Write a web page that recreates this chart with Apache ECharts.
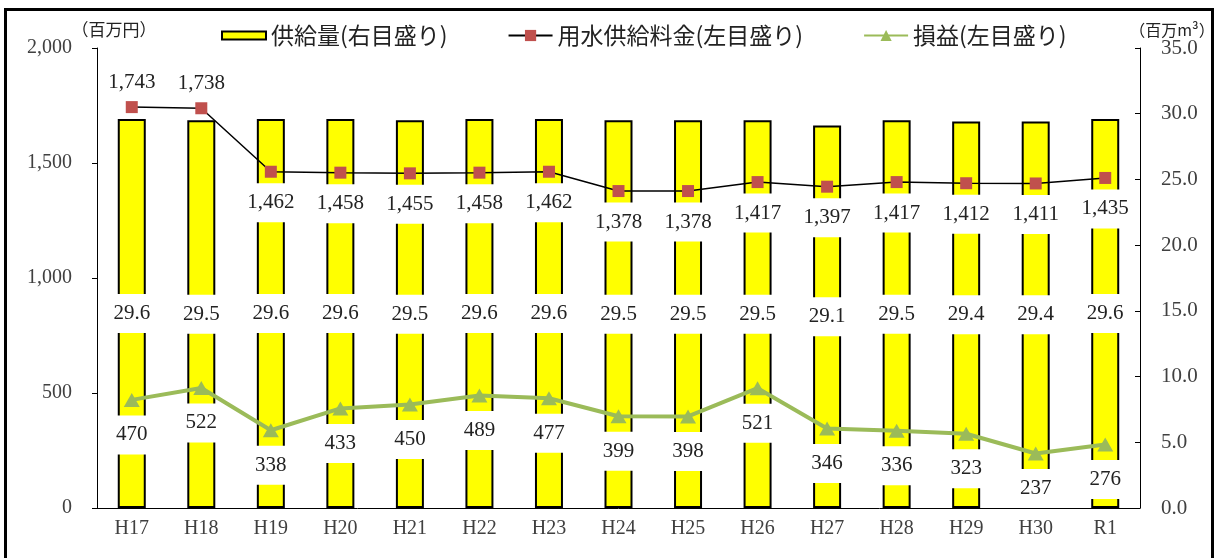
<!DOCTYPE html>
<html>
<head>
<meta charset="utf-8">
<style>
  html, body { margin: 0; padding: 0; background: #fff; }
  #chart { width: 1219px; height: 558px; }
</style>
<script src="https://cdn.jsdelivr.net/npm/echarts@6/dist/echarts.min.js"></script>
</head>
<body>
<div id="chart"></div>
<script>
// Fiscal years (Heisei 17 .. Reiwa 1)
const categories = ['H17', 'H18', 'H19', 'H20', 'H21', 'H22', 'H23', 'H24', 'H25', 'H26', 'H27', 'H28', 'H29', 'H30', 'R1'];
// Supply volume, million m3 (right axis)
const supplyVolume = [29.6, 29.5, 29.6, 29.6, 29.5, 29.6, 29.6, 29.5, 29.5, 29.5, 29.1, 29.5, 29.4, 29.4, 29.6];
// Water supply charges, million yen (left axis)
const waterFee = [1743, 1738, 1462, 1458, 1455, 1458, 1462, 1378, 1378, 1417, 1397, 1417, 1412, 1411, 1435];
// Profit and loss, million yen (left axis)
const profitLoss = [470, 522, 338, 433, 450, 489, 477, 399, 398, 521, 346, 336, 323, 237, 276];
// Axis tick settings
const leftTicks = { min: 0, max: 2000, interval: 500 };
const rightTicks = { min: 0, max: 35, interval: 5 };

const seriesNames = ['供給量(右目盛り)', '用水供給料金(左目盛り)', '損益(左目盛り)'];

const numFont = 'Liberation Serif';
const jpFont = 'Noto Sans CJK JP';
const fmtComma = v => Number(v).toLocaleString('en-US');

// A charge point that sits above its bar gets its label above; the rest go below.
const feeData = waterFee.map((v, i) => {
  const above = v / leftTicks.max > supplyVolume[i] / rightTicks.max;
  return {
    value: v,
    label: above
      ? { offset: [0, -25], backgroundColor: 'transparent' }
      : { offset: [0, 31] }
  };
});

const numLabel = {
  show: true,
  position: 'inside',
  fontFamily: numFont,
  fontSize: 21,
  color: '#222',
  backgroundColor: '#fff',
  padding: [9, 3]
};

const chart = echarts.init(document.getElementById('chart'));
chart.setOption({
  backgroundColor: '#fff',
  animation: false,
  grid: { left: 97, right: 79, top: 48, bottom: 50 },
  legend: {
    left: 216,
    top: 19,
    itemWidth: 44,
    itemHeight: 14,
    itemGap: 60,
    textStyle: { fontFamily: jpFont, fontSize: 23, color: '#222' },
    data: [
      { name: seriesNames[0], icon: 'path://M0 0H44V8H0Z' },
      { name: seriesNames[1] },
      { name: seriesNames[2] }
    ]
  },
  graphic: [
    {
      type: 'rect',
      shape: { x: 5.5, y: 9.5, width: 1207, height: 600 },
      style: { fill: 'none', stroke: '#000', lineWidth: 3 },
      silent: true
    }
  ],
  xAxis: {
    type: 'category',
    data: categories,
    axisLine: { lineStyle: { color: '#000', width: 1 } },
    axisTick: { inside: true, length: 5, lineStyle: { color: '#000' } },
    axisLabel: { margin: 11, fontFamily: numFont, fontSize: 20, color: '#404040' }
  },
  yAxis: [
    {
      type: 'value',
      min: leftTicks.min,
      max: leftTicks.max,
      interval: leftTicks.interval,
      name: '（百万円）',
      nameLocation: 'end',
      nameGap: 7,
      nameTextStyle: { fontFamily: jpFont, fontSize: 17, color: '#222', padding: [0, 0, 0, 34] },
      axisLine: { show: true, lineStyle: { color: '#000', width: 1 } },
      axisTick: { show: true, length: 5, lineStyle: { color: '#000' } },
      splitLine: { show: false },
      axisLabel: { margin: 25, fontFamily: numFont, fontSize: 20, color: '#404040', formatter: fmtComma }
    },
    {
      type: 'value',
      position: 'right',
      min: rightTicks.min,
      max: rightTicks.max,
      interval: rightTicks.interval,
      name: '（百万m³）',
      nameLocation: 'end',
      nameGap: 9,
      nameTextStyle: { fontFamily: jpFont, fontSize: 16, color: '#222', padding: [0, 0, 0, 64] },
      axisLine: { show: true, lineStyle: { color: '#000', width: 1 } },
      axisTick: { show: true, inside: true, length: 5, lineStyle: { color: '#000' } },
      splitLine: { show: false },
      axisLabel: { margin: 21, fontFamily: numFont, fontSize: 21, color: '#404040', formatter: v => v.toFixed(1) }
    }
  ],
  series: [
    {
      name: seriesNames[0],
      type: 'bar',
      yAxisIndex: 1,
      data: supplyVolume,
      barWidth: 28,
      itemStyle: { color: '#ffff00', borderColor: '#000', borderWidth: 2 },
      label: Object.assign({}, numLabel, { formatter: p => p.value.toFixed(1) })
    },
    {
      name: seriesNames[1],
      type: 'line',
      yAxisIndex: 0,
      data: feeData,
      symbol: 'rect',
      symbolSize: 12,
      lineStyle: { color: '#000', width: 1.5 },
      itemStyle: { color: '#c0504d' },
      label: Object.assign({}, numLabel, { formatter: p => fmtComma(p.value) }),
      z: 3
    },
    {
      name: seriesNames[2],
      type: 'line',
      yAxisIndex: 0,
      data: profitLoss,
      symbol: 'triangle',
      symbolSize: [16, 14],
      lineStyle: { color: '#9bbb59', width: 4 },
      itemStyle: { color: '#9bbb59' },
      label: Object.assign({}, numLabel, { offset: [0, 35], formatter: p => fmtComma(p.value) }),
      z: 4
    }
  ]
});
</script>
</body>
</html>
